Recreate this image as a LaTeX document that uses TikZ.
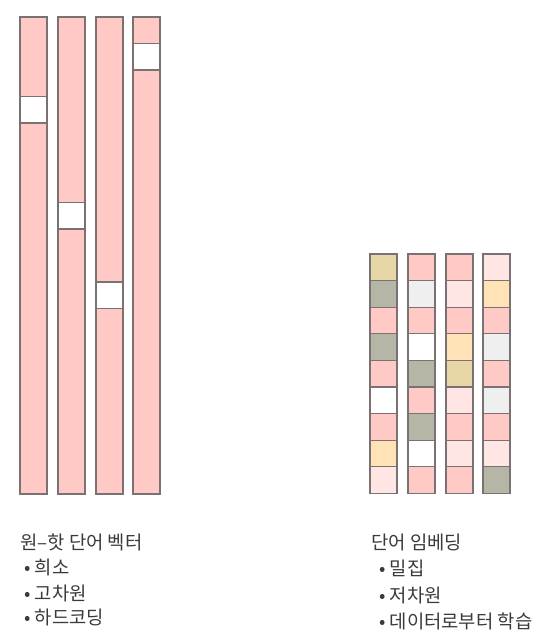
\documentclass[tikz,border=0pt]{standalone}
\usepackage{fontspec}
\newfontfamily\kr{Noto Sans CJK KR}
\definecolor{cellborder}{HTML}{7A7272}
\definecolor{textgray}{HTML}{3A3A3A}
\definecolor{empink}{HTML}{FFC9C5}
\definecolor{emlpink}{HTML}{FFE6E4}
\definecolor{emtan}{HTML}{E7D7A6}
\definecolor{emolive}{HTML}{B6B6A6}
\definecolor{emyel}{HTML}{FFE2B6}
\definecolor{emlgray}{HTML}{EFEFEF}
\begin{document}
\begin{tikzpicture}[x=1pt,y=-1pt,
    cell/.style={draw=cellborder, line width=1.1pt},
    captxt/.style={anchor=west, inner sep=0pt, text=textgray, font=\kr\fontsize{18.8}{22}\selectfont}]
    \useasboundingbox (0,0) rectangle (550,636);

    \foreach \x/\w in {20/3, 58/7, 96/10, 133/1} {
        \draw[cell, fill=empink] (\x,17) rectangle ++(27,477);
        \draw[cell, fill=white] (\x,17+\w*26.5) rectangle ++(27,26.5);
    }

    \foreach \x/\cols in {370/{emtan,emolive,empink,emolive,empink,white,empink,emyel,emlpink},
                          408/{empink,emlgray,empink,white,emolive,empink,emolive,white,empink},
                          446/{empink,emlpink,empink,emyel,emtan,emlpink,empink,emlpink,empink},
                          483/{emlpink,emyel,empink,emlgray,empink,emlgray,empink,emlpink,emolive}} {
        \foreach \c [count=\j from 0] in \cols {
            \draw[cell, fill=\c] (\x,254+\j*26.6) rectangle ++(27,26.6);
        }
    }

    \node[captxt] (ohtitle) at (20,542) {원–핫 단어 벡터};
    \node[captxt] (ohsparse) at (24,567) {• 희소};
    \node[captxt] (ohhigh) at (24,593) {• 고차원};
    \node[captxt] (ohhard) at (24,617) {• 하드코딩};

    \node[captxt] (emtitle) at (371,542) {단어 임베딩};
    \node[captxt] (emdense) at (379,568) {• 밀집};
    \node[captxt] (emlow) at (379,595) {• 저차원};
    \node[captxt] (emlearn) at (379,621) {• 데이터로부터 학습};
\end{tikzpicture}
\end{document}
